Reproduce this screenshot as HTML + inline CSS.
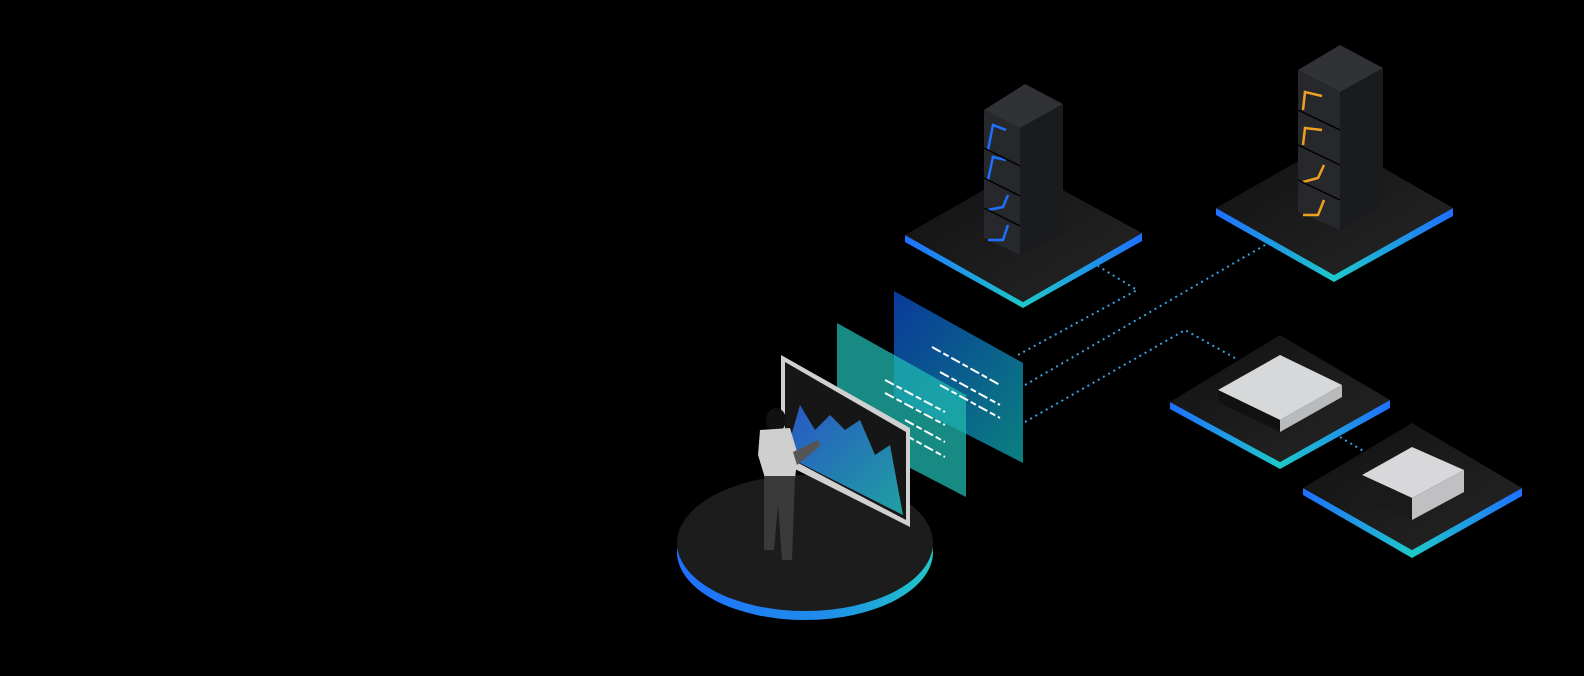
<!DOCTYPE html>
<html><head><style>html,body{margin:0;padding:0;background:#000;}svg{display:block}</style></head>
<body>
<svg width="1584" height="676" viewBox="0 0 1584 676" xmlns="http://www.w3.org/2000/svg">
<defs>
<linearGradient id="edge" x1="0" y1="0" x2="1" y2="0"><stop offset="0" stop-color="#1f6fff"/><stop offset="0.5" stop-color="#1fc8c8"/><stop offset="1" stop-color="#1f6fff"/></linearGradient>
<linearGradient id="top" x1="0" y1="0" x2="1" y2="1"><stop offset="0" stop-color="#111"/><stop offset="1" stop-color="#262626"/></linearGradient>
<linearGradient id="disc" x1="0" y1="0" x2="1" y2="0"><stop offset="0" stop-color="#1f6fff"/><stop offset="0.6" stop-color="#1f8fe8"/><stop offset="1" stop-color="#1fc8c8"/></linearGradient>
<linearGradient id="blueP" x1="0" y1="0" x2="1" y2="1"><stop offset="0" stop-color="#0a3a9a"/><stop offset="1" stop-color="#0a8080"/></linearGradient>
<linearGradient id="chart" x1="0" y1="0" x2="1" y2="1"><stop offset="0" stop-color="#2a5fd8"/><stop offset="1" stop-color="#20b0b0"/></linearGradient>
</defs>

<g stroke="#3aa0e0" stroke-width="2" stroke-dasharray="2 4" fill="none">
<polyline points="1018,355 1137,290 1098,266"/>
<polyline points="1025,385 1265,245"/>
<polyline points="1025,422 1185,330 1235,358"/>
<polyline points="1340,437 1365,452"/>
</g>

<polygon points="905,235 1023,302 1142,233 1142,241 1023,308 905,242" fill="url(#edge)"/>
<polygon points="905,235 1022,168 1142,233 1023,302" fill="url(#top)"/>
<polygon points="1216,208 1334,275 1453,208 1453,216 1334,282 1216,215" fill="url(#edge)"/>
<polygon points="1216,208 1335,140 1453,208 1334,275" fill="url(#top)"/>
<polygon points="1170,402 1280,462 1390,400 1390,408 1280,469 1170,409" fill="url(#edge)"/>
<polygon points="1170,402 1280,335 1390,400 1280,462" fill="url(#top)"/>
<polygon points="1303,488 1412,550 1522,488 1522,496 1412,558 1303,495" fill="url(#edge)"/>
<polygon points="1303,488 1412,423 1522,488 1412,550" fill="url(#top)"/>

<polygon points="984,110 1020,128 1020,255 984,238" fill="#26282c"/>
<polygon points="1020,128 1063,104 1063,232 1020,255" fill="#1a1b1e"/>
<polygon points="984,110 1025,84 1063,104 1020,128" fill="#303236"/>
<g stroke="#1f6fff" stroke-width="2.5" fill="none">
<polyline points="1006,130 993,125 988,150"/><polyline points="1006,160 993,157 988,180"/>
<polyline points="1008,195 1003,207 988,210"/><polyline points="1008,225 1003,240 988,240"/>
</g>
<g stroke="#000" stroke-width="1.5"><line x1="984" y1="148" x2="1020" y2="166"/><line x1="984" y1="178" x2="1020" y2="196"/><line x1="984" y1="208" x2="1020" y2="226"/></g>
<polygon points="1298,70 1340,92 1340,230 1298,212" fill="#26282c"/>
<polygon points="1340,92 1383,68 1383,205 1340,230" fill="#1a1b1e"/>
<polygon points="1298,70 1340,45 1383,68 1340,92" fill="#303236"/>
<g stroke="#f0a020" stroke-width="2.5" fill="none">
<polyline points="1322,96 1305,92 1303,110"/><polyline points="1322,130 1305,128 1303,145"/>
<polyline points="1324,165 1318,178 1303,182"/><polyline points="1324,200 1318,215 1303,215"/>
</g>
<g stroke="#000" stroke-width="1.5"><line x1="1298" y1="110" x2="1340" y2="130"/><line x1="1298" y1="145" x2="1340" y2="165"/><line x1="1298" y1="180" x2="1340" y2="200"/></g>

<polygon points="1218,390 1280,355 1342,385 1280,420" fill="#d6d8da"/>
<polygon points="1218,390 1280,420 1280,432 1218,402" fill="#111"/>
<polygon points="1280,420 1342,385 1342,397 1280,432" fill="#b8babc"/>
<polygon points="1362,475 1412,447 1464,470 1412,498" fill="#d8d8da"/>
<polygon points="1362,475 1412,498 1412,520 1362,498" fill="#1a1a1a"/>
<polygon points="1412,498 1464,470 1464,492 1412,520" fill="#c0c0c2"/>

<ellipse cx="805" cy="552" rx="128" ry="68" fill="url(#disc)"/>
<ellipse cx="805" cy="543" rx="128" ry="68" fill="#1c1c1c"/>

<polygon points="894,291 1023,363 1023,463 894,397" fill="url(#blueP)"/>
<polygon points="837,323 966,395 966,497 837,430" fill="#1fb8b0" opacity="0.75"/>
<g stroke="#fff" stroke-width="2" stroke-dasharray="10 3 6 3">
<line x1="932" y1="347" x2="1000" y2="385"/><line x1="940" y1="372" x2="1000" y2="405"/><line x1="940" y1="385" x2="1000" y2="418"/>
<line x1="885" y1="380" x2="945" y2="412"/><line x1="885" y1="393" x2="945" y2="425"/><line x1="905" y1="420" x2="945" y2="442"/><line x1="905" y1="435" x2="945" y2="457"/>
</g>
<polygon points="781,355 910,428 910,527 781,462" fill="#d0d0d0"/>
<polygon points="785,362 906,432 906,520 785,456" fill="#161616"/>
<polygon points="790,440 800,405 815,430 830,415 845,430 860,420 875,455 890,445 903,515 790,458" fill="url(#chart)" opacity="0.9"/>
<ellipse cx="776" cy="420" rx="10" ry="12" fill="#111"/>
<path d="M760,430 L790,428 L798,455 L795,478 L765,478 L758,455Z" fill="#cfcfcf"/>
<path d="M793,452 L818,440 L820,446 L797,465Z" fill="#555"/>
<path d="M764,476 L795,476 L792,560 L782,560 L778,505 L774,550 L764,550Z" fill="#3a3a3a"/>
</svg>
</body></html>
